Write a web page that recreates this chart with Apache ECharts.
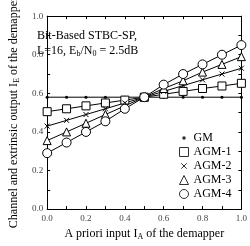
<!DOCTYPE html>
<html><head><meta charset="utf-8">
<script src="https://cdn.jsdelivr.net/npm/echarts@6/dist/echarts.min.js"></script>
<style>html,body{margin:0;padding:0;background:#fff}#c{width:250px;height:246px}</style>
</head><body><div id="c"></div>
<script>
const xVals = [0.0, 0.1, 0.2, 0.3, 0.4, 0.5, 0.6, 0.7, 0.8, 0.9, 1.0];
const gm   = [0.58, 0.58, 0.58, 0.58, 0.58, 0.58, 0.58, 0.58, 0.58, 0.58, 0.58];
const agm1 = [0.505, 0.52, 0.535, 0.55, 0.565, 0.58, 0.595, 0.61, 0.625, 0.638, 0.652];
const agm2 = [0.43, 0.46, 0.49, 0.52, 0.55, 0.58, 0.61, 0.64, 0.67, 0.70, 0.73];
const agm3 = [0.355, 0.40, 0.445, 0.49, 0.535, 0.58, 0.625, 0.665, 0.71, 0.75, 0.79];
const agm4 = [0.29, 0.345, 0.40, 0.455, 0.52, 0.58, 0.645, 0.70, 0.75, 0.80, 0.85];
const tickLabels = ['0.0', '0.2', '0.4', '0.6', '0.8', '1.0'];
const names = ['GM', 'AGM-1', 'AGM-2', 'AGM-3', 'AGM-4'];

const FONT = '"Liberation Serif","DejaVu Serif",serif';
const crossPath = 'path://M0,0L10,10M10,0L0,10';
const crossLegend = 'path://M0,0L0,0M10,10L10,10M2,2L8,8M8,2L2,8';
const dotLegend = 'path://M0,0L0,0M10,10L10,10M3,5A2,2 0 1,0 7,5A2,2 0 1,0 3,5Z';
function pts(ys){ return xVals.map((x,i)=>[x, ys[i]]); }
function fmt(v){ const s=v.toFixed(1); return tickLabels.indexOf(s)>=0 ? s : ''; }

const chart = echarts.init(document.getElementById('c'), null, {renderer:'canvas'});
const axisCommon = {
  min: 0, max: 1, interval: 0.1,
  axisLine: {show: true, onZero: false, lineStyle: {color: '#000', width: 1}},
  axisTick: {show: true, inside: true, length: 3, lineStyle: {color: '#000'}},
  splitLine: {show: false}
};
function mk(name, data, symbol, size, fill, extra){
  return Object.assign({
    name: name, type: 'line', data: pts(data), symbol: symbol, symbolSize: size,
    showAllSymbol: true,
    lineStyle: {color: '#000', width: 1},
    itemStyle: {color: fill, borderColor: '#000', borderWidth: 1},
    emphasis: {disabled: true}, animation: false
  }, extra || {});
}
function legendProxy(name, fill, bw){
  return {name: name, type: 'scatter', data: [], itemStyle: {color: fill, borderColor: '#000', borderWidth: bw}};
}
const rich = {
  a: {fontFamily: FONT, fontSize: 12, color: '#000', fontWeight: 'normal'},
  s: {fontFamily: FONT, fontSize: 8, color: '#000', fontWeight: 'normal', verticalAlign: 'bottom', padding: [6,0,0,0]}
};
const option = {
  animation: false,
  backgroundColor: '#fff',
  grid: {left: 29, right: 7, top: 7, bottom: 25},
  title: {
    left: 32, top: 23,
    text: '{a|Bit-Based STBC-SP,}\n{a|L=16, E}{s|b}{a|/N}{s|0}{a| = 2.5dB}',
    textStyle: {
      fontWeight: 'normal',
      rich: {
        a: {fontFamily: FONT, fontSize: 12, color: '#000', fontWeight: 'normal', lineHeight: 15},
        s: {fontFamily: FONT, fontSize: 8, color: '#000', fontWeight: 'normal', verticalAlign: 'bottom', padding: [6,0,0,0], lineHeight: 15}
      }
    }
  },
  legend: {
    orient: 'vertical', left: 174, top: 127, itemGap: 2, itemWidth: 9, itemHeight: 9,
    itemStyle: {borderWidth: 1},
    textStyle: {fontFamily: FONT, fontSize: 12, color: '#000'},
    data: [
      {name: names[0], icon: dotLegend, itemStyle: {borderWidth: 0}},
      {name: names[1], icon: 'rect'},
      {name: names[2], icon: crossLegend},
      {name: names[3], icon: 'triangle'},
      {name: names[4], icon: 'circle'}
    ]
  },
  xAxis: [
    Object.assign({}, axisCommon, {
      type: 'value', position: 'bottom',
      axisLabel: {fontFamily: FONT, fontSize: 9, color: '#444', margin: 5, formatter: fmt},
      name: '{a|A priori input I}{s|A}{a| of the demapper}',
      nameLocation: 'middle', nameGap: 15,
      nameTextStyle: {rich: rich}
    }),
    Object.assign({}, axisCommon, {type: 'value', position: 'top', axisLabel: {show: false}})
  ],
  yAxis: [
    Object.assign({}, axisCommon, {
      type: 'value', position: 'left',
      axisLabel: {fontFamily: FONT, fontSize: 9, color: '#444', margin: 4, formatter: fmt},
      name: '{a|Channel and extrinsic output I}{s|E}{a| of the demapper}',
      nameLocation: 'middle', nameGap: 18,
      nameTextStyle: {rich: rich}
    }),
    Object.assign({}, axisCommon, {type: 'value', position: 'right', axisLabel: {show: false}})
  ],
  series: [
    legendProxy(names[0], '#000', 0),
    legendProxy(names[1], '#fff', 1),
    legendProxy(names[2], 'rgba(0,0,0,0)', 1),
    legendProxy(names[3], '#fff', 1),
    legendProxy(names[4], '#fff', 1),
    mk(names[0], gm, 'circle', 3, '#000', {itemStyle: {color: '#000', borderWidth: 0}}),
    mk(names[1], agm1, 'rect', 8, '#fff'),
    mk(names[2], agm2, crossPath, 5, 'rgba(0,0,0,0)'),
    mk(names[3], agm3, 'triangle', 8, '#fff'),
    mk(names[4], agm4, 'circle', 9, '#fff')
  ]
};
chart.setOption(option);
</script></body></html>
